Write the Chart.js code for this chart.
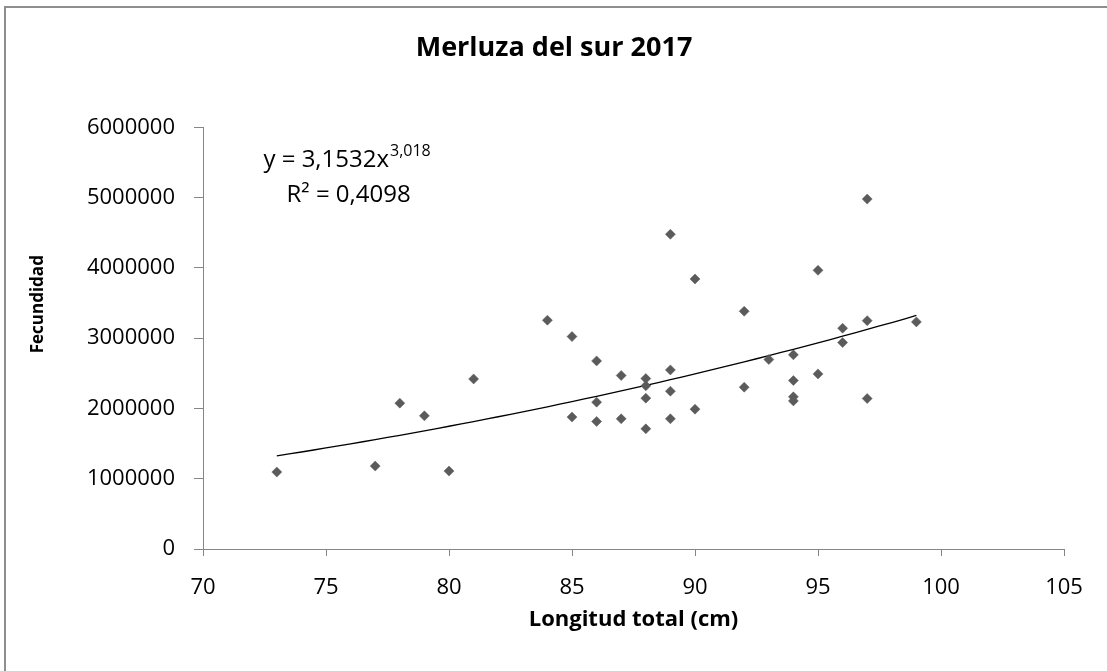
<!DOCTYPE html>
<html>
<head>
<meta charset="utf-8">
<title>Merluza del sur 2017</title>
<script src="https://cdn.jsdelivr.net/npm/chart.js@4.4.1/dist/chart.umd.min.js"></script>
<style>
  body { margin: 0; background: #fff; }
  #wrap { position: relative; width: 1107px; height: 671px; overflow: hidden; }
  #marco { position: absolute; left: 4px; top: 6px; width: 1200px; height: 800px;
           border-left: 2px solid #8e8e8e; border-top: 2px solid #8e8e8e; }
  canvas { position: absolute; left: 0; top: 0; }
</style>
</head>
<body>
<div id="wrap">
  <div id="marco"></div>
  <canvas id="grafico" width="1107" height="671"></canvas>
</div>
<script>
// longitud total (cm) y fecundidad de cada hembra
var longitud = [73, 77, 78, 79, 80, 81, 84, 85, 85, 86, 86, 86, 87, 87, 88, 88, 88, 88, 89, 89,
                89, 89, 90, 90, 92, 92, 93, 94, 94, 94, 94, 95, 95, 96, 96, 97, 97, 97, 99];
var fecundidad = [1095000, 1180000, 2076000, 1895000, 1109000, 2420000, 3256000, 3023000, 1877000, 2677000,
                  2090000, 1815000, 2469000, 1853000, 2426000, 2322000, 2147000, 1710000, 4479000, 2549000,
                  2246000, 1853000, 3843000, 1990000, 3384000, 2303000, 2696000, 2763000, 2397000, 2165000,
                  2108000, 3966000, 2492000, 3142000, 2938000, 4980000, 3250000, 2141000, 3232000];

// ajuste potencial y = a * x^b
var coefA = 3.1532;
var coefB = 3.018;
var r2 = 0.4098;

var ejeX = [70, 105, 5];
var ejeY = [0, 6000000, 1000000];

var puntos = longitud.map(function (l, i) { return { x: l, y: fecundidad[i] }; });

var xMin = Math.min.apply(null, longitud);
var xMax = Math.max.apply(null, longitud);
var curva = [];
for (var l = xMin; l <= xMax + 1e-9; l += 0.5) {
    curva.push({ x: l, y: coefA * Math.pow(l, coefB) });
}

function coma(n) { return String(n).replace('.', ','); }

// ecuacion de la tendencia y titulo vertical del eje y
var textos = {
    id: 'textos',
    afterDatasetsDraw: function (chart) {
        var ctx = chart.ctx;
        var area = chart.chartArea;
        var cx = chart.scales.x.getPixelForValue(76);
        var by = chart.scales.y.getPixelForValue(5440000);
        var base = 'y = ' + coma(coefA) + 'x';
        var exp = coma(coefB);
        ctx.save();
        ctx.fillStyle = '#000';
        ctx.textBaseline = 'alphabetic';
        ctx.font = "24px 'Open Sans'";
        var wb = ctx.measureText(base).width;
        ctx.font = "16px 'Open Sans'";
        var we = ctx.measureText(exp).width;
        var x0 = cx - (wb + we) / 2 - 4;
        ctx.font = "24px 'Open Sans'";
        ctx.fillText(base, x0, by);
        ctx.font = "16px 'Open Sans'";
        ctx.fillText(exp, x0 + wb + 1, by - 11);
        ctx.font = "24px 'Open Sans'";
        ctx.textAlign = 'center';
        ctx.fillText('R\u00B2 = ' + coma(r2), cx - 2, by + 35);

        ctx.translate(38, (area.top + area.bottom) / 2 - 34);
        ctx.rotate(-Math.PI / 2);
        ctx.textBaseline = 'middle';
        ctx.font = "bold 17px 'Open Sans'";
        ctx.fillText('Fecundidad', 0, 0);
        ctx.restore();
    }
};

Chart.defaults.font.family = "'Open Sans', sans-serif";
Chart.defaults.color = '#000';

var ctx = document.getElementById('grafico');

var grafico = new Chart(ctx, {
    data: {
        datasets: [{
                type: 'line',
                label: 'Potencial (Fecundidad)',
                data: curva,
                borderColor: '#000',
                borderWidth: 1.3,
                pointRadius: 0,
                tension: 0,
                fill: false,
                order: 2
            },
            {
                type: 'scatter',
                label: 'Fecundidad',
                data: puntos,
                pointStyle: 'rectRot',
                pointRadius: 5,
                pointBackgroundColor: '#5b5b5b',
                pointBorderColor: '#5b5b5b',
                pointBorderWidth: 0.5,
                order: 1
            }
        ]
    },
    options: {
        responsive: false,
        animation: false,
        layout: {
            padding: { left: 44, right: 43, top: 0, bottom: 0 }
        },
        plugins: {
            legend: { display: false },
            tooltip: { enabled: false },
            title: {
                display: true,
                text: 'Merluza del sur 2017',
                color: '#000',
                font: { size: 27, weight: 'bold' },
                padding: { top: 32, bottom: 63 }
            }
        },
        scales: {
            x: {
                type: 'linear',
                position: 'bottom',
                min: ejeX[0],
                max: ejeX[1],
                ticks: { stepSize: ejeX[2], font: { size: 22 }, padding: 19, color: '#000' },
                grid: { drawOnChartArea: false, tickLength: 7, color: '#868686' },
                border: { color: '#868686' },
                title: {
                    display: true,
                    text: 'Longitud total (cm)',
                    color: '#000',
                    font: { size: 22, weight: 'bold' },
                    padding: { top: 0, bottom: 38 }
                },
                afterFit: function (s) { s.height = 122; }
            },
            y: {
                type: 'linear',
                min: ejeY[0],
                max: ejeY[1],
                ticks: {
                    stepSize: ejeY[2],
                    font: { size: 22 },
                    padding: 19,
                    color: '#000',
                    callback: function (v) { return String(v); }
                },
                grid: { drawOnChartArea: false, tickLength: 9, color: '#868686' },
                border: { color: '#868686' },
                afterFit: function (s) { s.width = 159; }
            }
        }
    },
    plugins: [textos]
});
</script>
</body>
</html>
